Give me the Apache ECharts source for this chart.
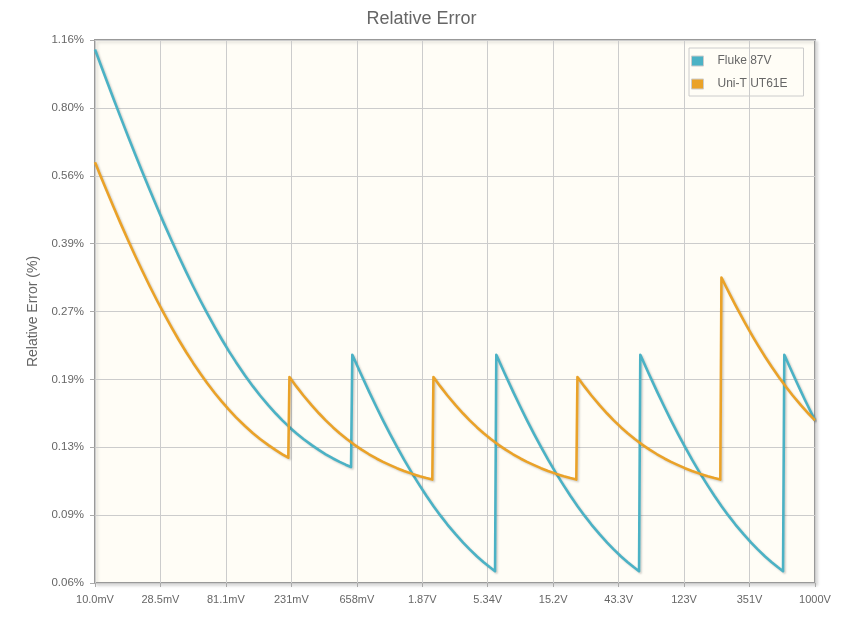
<!DOCTYPE html>
<html>
<head>
<meta charset="utf-8">
<script src="https://cdn.jsdelivr.net/npm/echarts@6/dist/echarts.min.js"></script>
<style>
html,body{margin:0;padding:0;background:#ffffff;}
#chart{width:843px;height:622px;}
</style>
</head>
<body>
<div id="chart"></div>
<script>
// ---- data (voltages in volts, relative error in %) ----
const seriesNames = ['Fluke 87V', 'Uni-T UT61E'];
const seriesColors = ['#4bb2c5', '#eaa228'];

const flukeVolts = [
  0.010, 0.011, 0.012, 0.0135, 0.015, 0.017, 0.019, 0.021, 0.024, 0.027, 0.030, 0.034, 0.038,
  0.043, 0.048, 0.054, 0.060, 0.068, 0.076, 0.085, 0.095, 0.110, 0.125, 0.140, 0.160, 0.180,
  0.200, 0.225, 0.250, 0.280, 0.320, 0.360, 0.400, 0.450, 0.500, 0.550, 0.600,
  0.612, 0.70, 0.80, 0.90, 1.0, 1.12, 1.25, 1.4, 1.6, 1.8, 2.0, 2.25, 2.5, 2.8, 3.2, 3.6, 4.0, 4.5, 5.0, 5.5, 6.0,
  6.12, 7.0, 8.0, 9.0, 10, 11.2, 12.5, 14, 16, 18, 20, 22.5, 25, 28, 32, 36, 40, 45, 50, 55, 60,
  61.2, 70, 80, 90, 100, 112, 125, 140, 160, 180, 200, 225, 250, 280, 320, 360, 400, 450, 500, 550, 600,
  612, 650, 700, 750, 800, 850, 900, 950, 1000
];
const flukeErr = [
  1.1000, 1.0091, 0.9333, 0.8407, 0.7667, 0.6882, 0.6263, 0.5762, 0.5167, 0.4704, 0.4333, 0.3941, 0.3632,
  0.3326, 0.3083, 0.2852, 0.2667, 0.2471, 0.2316, 0.2176, 0.2053, 0.1909, 0.1800, 0.1714, 0.1625, 0.1556,
  0.1500, 0.1444, 0.1400, 0.1357, 0.1313, 0.1278, 0.1250, 0.1222, 0.1200, 0.1182, 0.1167,
  0.2134, 0.1929, 0.1750, 0.1611, 0.1500, 0.1393, 0.1300, 0.1214, 0.1125, 0.1056, 0.1000, 0.0944, 0.0900, 0.0857, 0.0813, 0.0778, 0.0750, 0.0722, 0.0700, 0.0682, 0.0667,
  0.2134, 0.1929, 0.1750, 0.1611, 0.1500, 0.1393, 0.1300, 0.1214, 0.1125, 0.1056, 0.1000, 0.0944, 0.0900, 0.0857, 0.0813, 0.0778, 0.0750, 0.0722, 0.0700, 0.0682, 0.0667,
  0.2134, 0.1929, 0.1750, 0.1611, 0.1500, 0.1393, 0.1300, 0.1214, 0.1125, 0.1056, 0.1000, 0.0944, 0.0900, 0.0857, 0.0813, 0.0778, 0.0750, 0.0722, 0.0700, 0.0682, 0.0667,
  0.2134, 0.2038, 0.1929, 0.1833, 0.1750, 0.1676, 0.1611, 0.1553, 0.1500
];

const uniVolts = [
  0.010, 0.011, 0.012, 0.0135, 0.015, 0.017, 0.019, 0.021, 0.024, 0.027, 0.030, 0.034, 0.038,
  0.043, 0.048, 0.054, 0.060, 0.068, 0.076, 0.085, 0.095, 0.110, 0.125, 0.140, 0.160, 0.180, 0.200, 0.220,
  0.224, 0.25, 0.28, 0.32, 0.36, 0.40, 0.45, 0.50, 0.56, 0.63, 0.71, 0.80, 0.90, 1.0, 1.12, 1.25, 1.4, 1.6, 1.8, 2.0, 2.2,
  2.24, 2.5, 2.8, 3.2, 3.6, 4.0, 4.5, 5.0, 5.6, 6.3, 7.1, 8.0, 9.0, 10, 11.2, 12.5, 14, 16, 18, 20, 22,
  22.4, 25, 28, 32, 36, 40, 45, 50, 56, 63, 71, 80, 90, 100, 112, 125, 140, 160, 180, 200, 220,
  224, 240, 260, 280, 300, 325, 350, 375, 400, 450, 500, 560, 630, 700, 800, 900, 1000
];
const uniErr = [
  0.6000, 0.5545, 0.5167, 0.4704, 0.4333, 0.3941, 0.3632, 0.3381, 0.3083, 0.2852, 0.2667, 0.2471, 0.2316,
  0.2163, 0.2042, 0.1926, 0.1833, 0.1735, 0.1658, 0.1588, 0.1526, 0.1455, 0.1400, 0.1357, 0.1313, 0.1278, 0.1250, 0.1227,
  0.1893, 0.1800, 0.1714, 0.1625, 0.1556, 0.1500, 0.1444, 0.1400, 0.1357, 0.1317, 0.1282, 0.1250, 0.1222, 0.1200, 0.1179, 0.1160, 0.1143, 0.1125, 0.1111, 0.1100, 0.1091,
  0.1893, 0.1800, 0.1714, 0.1625, 0.1556, 0.1500, 0.1444, 0.1400, 0.1357, 0.1317, 0.1282, 0.1250, 0.1222, 0.1200, 0.1179, 0.1160, 0.1143, 0.1125, 0.1111, 0.1100, 0.1091,
  0.1893, 0.1800, 0.1714, 0.1625, 0.1556, 0.1500, 0.1444, 0.1400, 0.1357, 0.1317, 0.1282, 0.1250, 0.1222, 0.1200, 0.1179, 0.1160, 0.1143, 0.1125, 0.1111, 0.1100, 0.1091,
  0.3232, 0.3083, 0.2923, 0.2786, 0.2667, 0.2538, 0.2429, 0.2333, 0.2250, 0.2111, 0.2000, 0.1893, 0.1794, 0.1714, 0.1625, 0.1556, 0.1500
];

const xTickLabels = ['10.0mV','28.5mV','81.1mV','231mV','658mV','1.87V','5.34V','15.2V','43.3V','123V','351V','1000V'];
const yTickLabels = ['0.06%','0.09%','0.13%','0.19%','0.27%','0.39%','0.56%','0.80%','1.16%'];

// ---- log scales: axis runs in tick-index units ----
const X_MIN_V = 0.01, X_DECADES_PER_TICK = 5 / 11;
const Y_MIN = 0.0626, Y_RATIO = 1.44;
const xPos = v => Math.log10(v / X_MIN_V) / X_DECADES_PER_TICK;
const yPos = e => Math.log(e / Y_MIN) / Math.log(Y_RATIO);
const toPairs = (xs, ys) => xs.map((v, i) => [xPos(v), yPos(ys[i])]);

const font = 'Liberation Sans, Arial, sans-serif';
const chart = echarts.init(document.getElementById('chart'), null, {renderer: 'canvas'});

const lineSeries = (name, color, data) => ({
  name, type: 'line', data, showSymbol: false, symbol: 'none', smooth: false,
  color,
  itemStyle: {color},
  lineStyle: {
    color, width: 2.6, join: 'round',
    shadowColor: 'rgba(0,0,0,0.18)', shadowBlur: 2, shadowOffsetX: 1.5, shadowOffsetY: 1.5
  },
  emphasis: {disabled: true},
  animation: false
});

chart.setOption({
  animation: false,
  backgroundColor: '#ffffff',
  title: {
    text: 'Relative Error', left: 'center', top: 10, padding: 0,
    textStyle: {fontFamily: font, fontSize: 18, fontWeight: 'normal', color: '#666666'}
  },
  legend: {
    orient: 'vertical', left: 689, top: 48,
    data: seriesNames,
    icon: 'rect', itemWidth: 12, itemHeight: 10, itemGap: 11,
    padding: [7, 16, 6, 2],
    borderColor: '#cccccc', borderWidth: 1,
    backgroundColor: 'transparent',
    itemStyle: {borderColor: '#cccccc', borderWidth: 1},
    textStyle: {fontFamily: font, fontSize: 12, color: '#666666', padding: [0, 0, 0, 9]}
  },
  grid: {
    left: 95, right: 28, top: 40, bottom: 39,
    show: true, backgroundColor: '#fffdf6',
    borderColor: '#999999', borderWidth: 2,
    shadowColor: 'rgba(0,0,0,0.12)', shadowBlur: 3, shadowOffsetX: 2, shadowOffsetY: 2
  },
  xAxis: {
    type: 'value', min: 0, max: 11, interval: 1,
    axisLine: {show: false},
    axisTick: {show: true, length: 4, lineStyle: {color: '#aaaaaa', width: 1}},
    splitLine: {show: true, lineStyle: {color: '#cccccc', width: 1}},
    axisLabel: {
      margin: 11, fontFamily: font, fontSize: 11, color: '#666666',
      formatter: v => xTickLabels[Math.round(v)]
    }
  },
  yAxis: {
    type: 'value', min: 0, max: 8, interval: 1,
    name: 'Relative Error (%)', nameLocation: 'middle', nameRotate: 90, nameGap: 54,
    nameTextStyle: {fontFamily: font, fontSize: 14, color: '#666666'},
    axisLine: {show: false},
    axisTick: {show: true, length: 5, lineStyle: {color: '#aaaaaa', width: 1}},
    splitLine: {show: true, lineStyle: {color: '#cccccc', width: 1}},
    axisLabel: {
      margin: 11, fontFamily: font, fontSize: 11.5, color: '#666666',
      formatter: v => yTickLabels[Math.round(v)]
    }
  },
  series: [
    lineSeries(seriesNames[0], seriesColors[0], toPairs(flukeVolts, flukeErr)),
    lineSeries(seriesNames[1], seriesColors[1], toPairs(uniVolts, uniErr))
  ]
});
</script>
</body>
</html>
